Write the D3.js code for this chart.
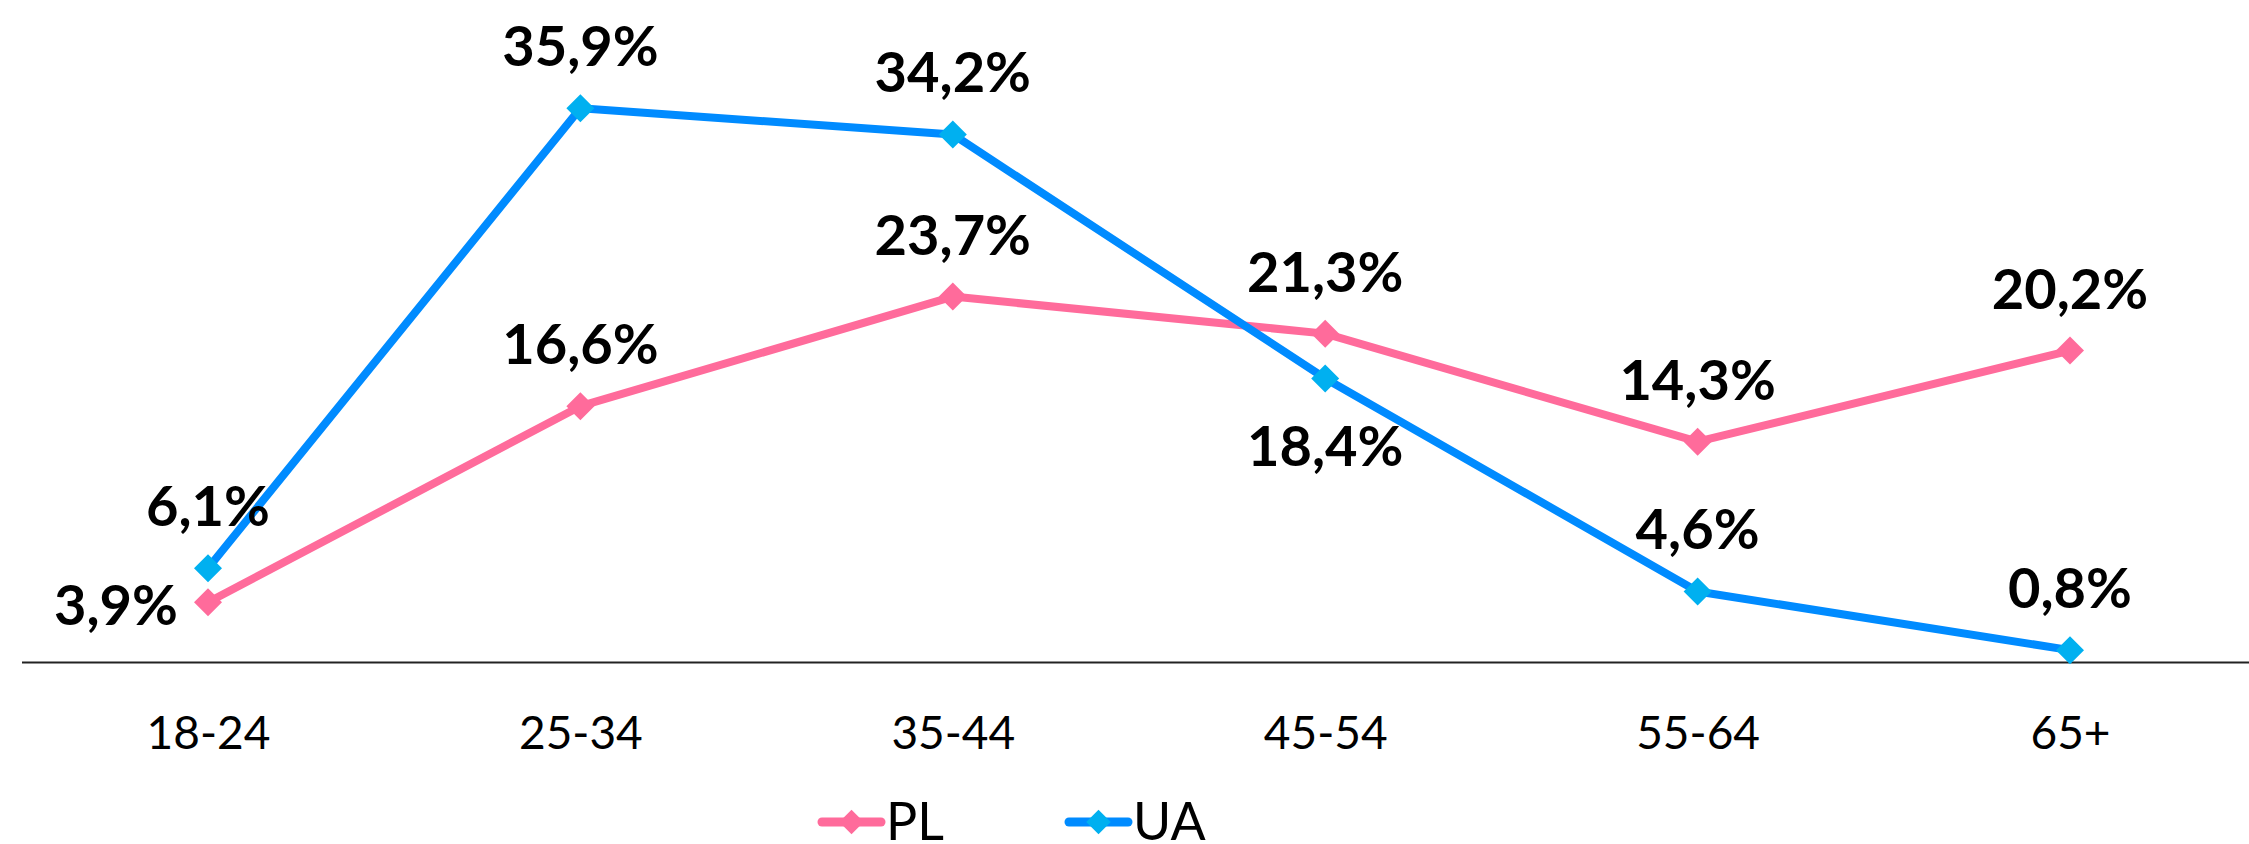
<!DOCTYPE html>
<html>
<head>
<meta charset="utf-8">
<script src="https://cdn.jsdelivr.net/npm/d3@7"></script>
<style>
  body { margin: 0; background: #fff; }
  svg { display: block; font-family: Lato, "Open Sans", sans-serif; }
</style>
</head>
<body>
<div id="chart"></div>
<script>
const categories = ["18-24", "25-34", "35-44", "45-54", "55-64", "65+"];
const seriesNames = ["PL", "UA"];
const plValues = [3.9, 16.6, 23.7, 21.3, 14.3, 20.2];
const uaValues = [6.1, 35.9, 34.2, 18.4, 4.6, 0.8];

const lineColors = { PL: "#ff6b9b", UA: "#008bff" };
const markerColors = { PL: "#ff6b9b", UA: "#00b0f0" };

const width = 2249,
  height = 844;

const svg = d3
  .select("#chart")
  .append("svg")
  .attr("width", width)
  .attr("height", height);

// set the ranges
const x = d3.scalePoint().domain(categories).range([208, 2070]);
const y = d3.scaleLinear().domain([0, 40]).range([662.5, 44.9]);

const fmt = (v) => v.toFixed(1).replace(".", ",") + "%";

// add the x Axis
const xAxis = svg
  .append("g")
  .attr("transform", "translate(0," + y(0) + ")")
  .call(d3.axisBottom(x).tickSize(0));

xAxis
  .select(".domain")
  .attr("d", "M" + 22 + ",0H" + width)
  .attr("stroke", "#222")
  .attr("stroke-width", 2);

xAxis
  .selectAll("text")
  .attr("y", 86)
  .attr("dy", null)
  .attr("fill", "#000")
  .style("font-size", "46px")
  .style("font-family", "Lato, sans-serif");

const series = [
  { name: "PL", values: plValues },
  { name: "UA", values: uaValues },
];

const line = d3
  .line()
  .x((d, i) => x(categories[i]))
  .y((d) => y(d));

const diamond = d3.symbol(d3.symbolSquare, 392);

series.forEach((s) => {
  svg
    .append("path")
    .datum(s.values)
    .attr("fill", "none")
    .attr("stroke", lineColors[s.name])
    .attr("stroke-width", 8)
    .attr("stroke-linejoin", "round")
    .attr("d", line);

  svg
    .append("g")
    .selectAll("path")
    .data(s.values)
    .enter()
    .append("path")
    .attr("d", diamond)
    .attr(
      "transform",
      (d, i) => `translate(${x(categories[i])},${y(d)}) rotate(45)`
    )
    .attr("fill", markerColors[s.name]);
});

// data labels
series.forEach((s) => {
  svg
    .append("g")
    .selectAll("text")
    .data(s.values)
    .enter()
    .append("text")
    .attr("x", (d, i) => {
      if (s.name === "PL" && i === 0) return x(categories[i]) - 30;
      return x(categories[i]);
    })
    .attr("y", (d, i) => {
      if (s.name === "PL" && i === 0) return y(d) + 23;
      if (s.name === "UA" && i === 3) return y(d) + 88;
      return y(d) - 42;
    })
    .attr("text-anchor", (d, i) =>
      s.name === "PL" && i === 0 ? "end" : "middle"
    )
    .style("font-size", "56px")
    .style("font-weight", "bold")
    .attr("fill", "#000")
    .text((d) => fmt(d));
});

// legend
const legend = svg
  .append("g")
  .selectAll("g")
  .data(seriesNames)
  .enter()
  .append("g")
  .attr("transform", (d, i) => `translate(${822 + i * 247},822)`);

legend
  .append("line")
  .attr("x1", 0)
  .attr("x2", 59)
  .attr("stroke", (d) => lineColors[d])
  .attr("stroke-width", 9)
  .attr("stroke-linecap", "round");

legend
  .append("path")
  .attr("d", d3.symbol(d3.symbolSquare, 300))
  .attr("transform", "translate(29.5,0) rotate(45)")
  .attr("fill", (d) => markerColors[d]);

legend
  .append("text")
  .attr("x", 64)
  .attr("y", 18)
  .style("font-size", "52px")
  .attr("fill", "#000")
  .text((d) => d);
</script>
</body>
</html>
